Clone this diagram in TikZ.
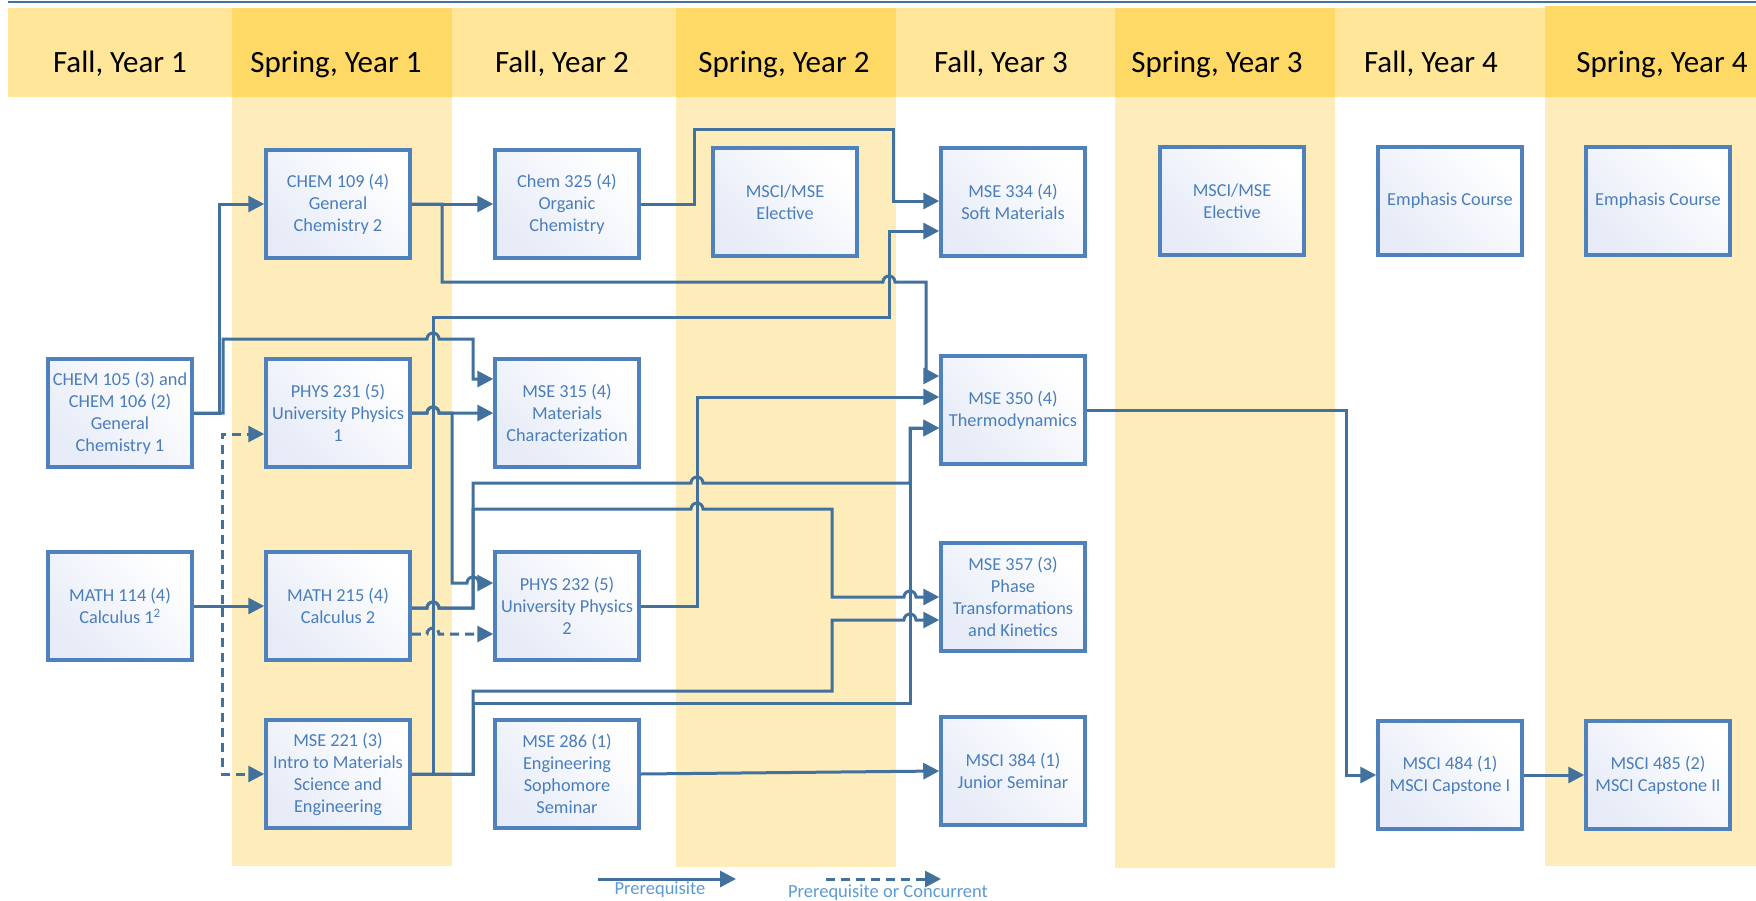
\documentclass[tikz,border=0pt]{standalone}
\usepackage{fontspec}
\setmainfont{Carlito}
\usetikzlibrary{arrows.meta}
\definecolor{hdrF}{HTML}{FFE699}
\definecolor{hdrS}{HTML}{FFD966}
\definecolor{bandS}{HTML}{FEEDBA}
\definecolor{conn}{HTML}{41719C}
\definecolor{boxline}{HTML}{4F81BD}
\definecolor{boxtext}{HTML}{4A7EBB}
\definecolor{boxtop}{HTML}{E6EBF7}
\definecolor{legtext}{HTML}{5B9BD5}
\begin{document}
\begin{tikzpicture}[x=1pt,y=-1pt,
  course/.style={draw=boxline, line width=3.5pt, top color=boxtop, bottom color=white, shading angle=135,
    minimum width=144pt, minimum height=108pt, inner sep=0pt, align=center, text=boxtext,
    font=\fontsize{18.3}{22}\selectfont},
  hdr/.style={anchor=base, font=\fontsize{31}{36}\selectfont, text=black, inner sep=0pt},
  link/.style={draw=conn, line width=3pt, -{Triangle[length=16pt,width=16pt]}, line join=miter},
  dlink/.style={link, dash pattern=on 9pt off 6pt},
  legend/.style={text=legtext, font=\fontsize{18.5}{20}\selectfont, inner sep=0pt}
]
\useasboundingbox (0,0) rectangle (1756,900);
\fill[white] (0,0) rectangle (1756,900);
% top rule
\draw[conn, line width=2pt] (8,1.5) -- (1756,1.5);
% column bands
\fill[hdrF] (8,8) rectangle (232,97);
\fill[hdrS] (232,8) rectangle (452,97);
\fill[bandS] (232,97) rectangle (452,866);
\fill[hdrF] (452,8) rectangle (676,97);
\fill[hdrS] (676,8) rectangle (896,97);
\fill[bandS] (676,97) rectangle (896,867);
\fill[hdrF] (896,8) rectangle (1115,97);
\fill[hdrS] (1115,8) rectangle (1335,97);
\fill[bandS] (1115,97) rectangle (1335,868);
\fill[hdrF] (1335,8) rectangle (1545,97);
\fill[hdrS] (1545,6) rectangle (1756,97);
\fill[bandS] (1545,97) rectangle (1756,866);
% headers
\node[hdr] (h1) at (120,72) {Fall, Year 1};
\node[hdr] (h2) at (336,72) {Spring, Year 1};
\node[hdr] (h3) at (562,72) {Fall, Year 2};
\node[hdr] (h4) at (784,72) {Spring, Year 2};
\node[hdr] (h5) at (1001,72) {Fall, Year 3};
\node[hdr] (h6) at (1217,72) {Spring, Year 3};
\node[hdr] (h7) at (1431,72) {Fall, Year 4};
\node[hdr] (h8) at (1662,72) {Spring, Year 4};
% courses
\node[course] (chem109) at (338,204) {CHEM 109 (4)\\General\\Chemistry 2};
\node[course] (chem325) at (567,204) {Chem 325 (4)\\Organic\\Chemistry};
\node[course] (elect1) at (785,202) {MSCI/MSE\\Elective};
\node[course] (mse334) at (1013,202) {MSE 334 (4)\\Soft Materials};
\node[course] (elect2) at (1232,201) {MSCI/MSE\\Elective};
\node[course] (emph1) at (1450,201) {Emphasis Course};
\node[course] (emph2) at (1658,201) {Emphasis Course};
\node[course] (chem105) at (120,413) {CHEM 105 (3) and\\CHEM 106 (2)\\General\\Chemistry 1};
\node[course] (phys231) at (338,413) {PHYS 231 (5)\\University Physics\\1};
\node[course] (mse315) at (567,413) {MSE 315 (4)\\Materials\\Characterization};
\node[course] (mse350) at (1013,410) {MSE 350 (4)\\Thermodynamics};
\node[course] (math114) at (120,606) {MATH 114 (4)\\Calculus 1\textsuperscript{2}};
\node[course] (math215) at (338,606) {MATH 215 (4)\\Calculus 2};
\node[course] (phys232) at (567,606) {PHYS 232 (5)\\University Physics\\2};
\node[course] (mse357) at (1013,597) {MSE 357 (3)\\Phase\\Transformations\\and Kinetics};
\node[course] (mse221) at (338,774) {MSE 221 (3)\\Intro to Materials\\Science and\\Engineering};
\node[course] (mse286) at (567,774) {MSE 286 (1)\\Engineering\\Sophomore\\Seminar};
\node[course] (msci384) at (1013,771) {MSCI 384 (1)\\Junior Seminar};
\node[course] (msci484) at (1450,775) {MSCI 484 (1)\\MSCI Capstone I};
\node[course] (msci485) at (1658,775) {MSCI 485 (2)\\MSCI Capstone II};
% connectors
\draw[link] (chem105.east) -| (219,204) -- (chem109.west);
\draw[link] (chem105.east) -| (223,339) -- (427,339) arc[start angle=180,end angle=0,radius=6pt] -- (473,339) -- (473,379) -- (mse315.west |- 0,379);
\draw[link] (chem109.east) -- (chem325.west);
\draw[link] (chem109.east) -- (442,204) -- (442,282) -- (883,282) arc[start angle=180,end angle=0,radius=6pt] -- (926,282) -- (926,376) -- (mse350.west |- 0,376);
\draw[link] (chem325.east) -- (694,204) -- (694,129) -- (893,129) -- (893,201) -- (mse334.west |- 0,201);
\draw[link] (mse221.east) -- (433,774) -- (433,317) -- (889,317) -- (889,231) -- (mse334.west |- 0,231);
\draw[link] (mse221.east) -- (473,774) -- (473,691) -- (832,691) -- (832,620) -- (904,620) arc[start angle=180,end angle=0,radius=6pt] -- (mse357.west |- 0,620);
\draw[link] (mse221.east) -- (473,774) -- (473,703) -- (910,703) -- (910,428) -- (mse350.west |- 0,428);
\draw[link] (phys231.east) -- (427,413) arc[start angle=180,end angle=0,radius=6pt] -- (mse315.west);
\draw[link] (phys231.east) -- (427,413) arc[start angle=180,end angle=0,radius=6pt] -- (452,413) -- (452,583) -- (467,583) arc[start angle=180,end angle=0,radius=6pt] -- (phys232.west |- 0,583);
\draw[link] (math114.east) -- (math215.west);
\draw[dlink] (math114.east) -- (222,606) -- (222,434) -- (phys231.west |- 0,434);
\draw[dlink] (math114.east) -- (222,606) -- (222,774) -- (mse221.west);
\draw[link] (math215.east |- 0,608) -- (427,608) arc[start angle=180,end angle=0,radius=6pt] -- (473,608) -- (473,483) -- (691,483) arc[start angle=180,end angle=0,radius=6pt] -- (910,483) -- (910,428) -- (mse350.west |- 0,428);
\draw[link] (math215.east |- 0,608) -- (427,608) arc[start angle=180,end angle=0,radius=6pt] -- (473,608) -- (473,509) -- (691,509) arc[start angle=180,end angle=0,radius=6pt] -- (832,509) -- (832,597) -- (904,597) arc[start angle=180,end angle=0,radius=6pt] -- (mse357.west |- 0,597);
\draw[dlink] (math215.east |- 0,634) -- (427,634) arc[start angle=180,end angle=0,radius=6pt] -- (phys232.west |- 0,634);
\draw[link] (phys232.east) -- (697,606) -- (697,397) -- (mse350.west |- 0,397);
\draw[link] (mse286.east) -- (msci384.west);
\draw[link] (mse350.east) -- (1346,410) -- (1346,775) -- (msci484.west);
\draw[link] (msci484.east) -- (msci485.west);
% legend
\coordinate (lgA) at (598,879);
\coordinate (lgB) at (736,879);
\draw[link] (lgA) -- (lgB);
\node[legend] (lgt1) at (660,890) {Prerequisite};
\coordinate (lgC) at (826,879);
\coordinate (lgD) at (941,879);
\draw[dlink] (lgC) -- (lgD);
\node[legend] (lgt2) at (888,893) {Prerequisite or Concurrent};
\end{tikzpicture}
\end{document}
